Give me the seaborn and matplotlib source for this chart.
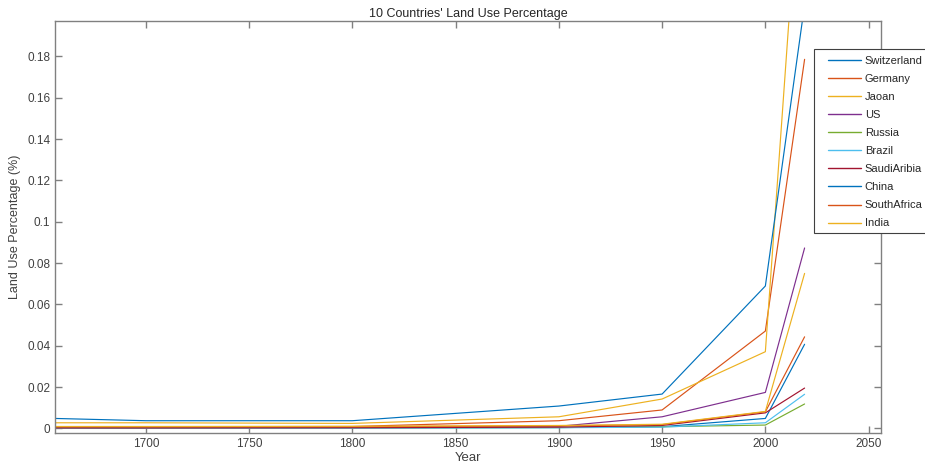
import pandas as pd
import matplotlib
matplotlib.use("Agg")
import matplotlib.pyplot as plt
import seaborn as sns
from matplotlib.patches import Rectangle
from matplotlib.ticker import FormatStrFormatter, MultipleLocator

# data
years = [1656, 1700, 1800, 1900, 1950, 2000, 2019]
countries = ['Switzerland', 'Germany', 'Jaoan', 'US', 'Russia', 'Brazil',
             'SaudiAribia', 'China', 'SouthAfrica', 'India']
switzerland = [0.0003, 0.0003, 0.0003, 0.0004, 0.0008, 0.0048, 0.0407]
germany = [0.0008, 0.0008, 0.0009, 0.0037, 0.0089, 0.0471, 0.1786]
japan = [0.0027, 0.0027, 0.0024, 0.0056, 0.0142, 0.0371, 0.3040]
us = [0.0004, 0.0004, 0.0005, 0.0010, 0.0056, 0.0174, 0.0873]
russia = [0.0001, 0.0001, 0.0002, 0.0004, 0.0008, 0.0016, 0.0118]
brazil = [0.0001, 0.0001, 0.0001, 0.0003, 0.0006, 0.0027, 0.0165]
saudi = [0.0002, 0.0002, 0.0003, 0.0006, 0.0014, 0.0075, 0.0195]
china = [0.0048, 0.0037, 0.0037, 0.0108, 0.0166, 0.0689, 0.2050]
south_africa = [0.0007, 0.0007, 0.0008, 0.0012, 0.0018, 0.0080, 0.0443]
india = [0.0009, 0.0009, 0.0010, 0.0014, 0.0020, 0.0082, 0.0750]

series = [switzerland, germany, japan, us, russia, brazil, saudi, china, south_africa, india]
colors = ['#0072BD', '#D95319', '#EDB120', '#7E2F8E', '#77AC30', '#4DBEEE',
          '#A2142F', '#0072BD', '#D95319', '#EDB120']

rows = []
for name, vals in zip(countries, series):
    for y, v in zip(years, vals):
        rows.append({'Year': y, 'Value': v, 'Country': name})
df = pd.DataFrame(rows)

sns.set_style("ticks")
plt.rcParams['font.family'] = ['Liberation Sans', 'DejaVu Sans']
plt.rcParams.update({
    "axes.edgecolor": "#808080",
    "axes.linewidth": 1.0,
    "xtick.color": "#808080",
    "ytick.color": "#808080",
    "xtick.labelcolor": "#404040",
    "ytick.labelcolor": "#404040",
    "xtick.direction": "in",
    "ytick.direction": "in",
})

fig = plt.figure(figsize=(9.25, 4.68), dpi=100)
ax = fig.add_axes([55 / 925, 1 - 432.7 / 468, 826 / 925, 412 / 468])

sns.lineplot(data=df, x='Year', y='Value', hue='Country', hue_order=countries,
             palette=colors, linewidth=0.85, ax=ax, legend=True)

ax.set_xlim(1656, 2056)
ax.set_ylim(-0.0021, 0.1973)
ax.xaxis.set_major_locator(MultipleLocator(50))
ax.yaxis.set_major_locator(MultipleLocator(0.02))
ax.yaxis.set_major_formatter(FormatStrFormatter('%g'))
ax.tick_params(axis='both', which='both', top=True, right=True, length=5,
               width=1.0, labelsize=8.5)
for s in ax.spines.values():
    s.set_visible(True)

ax.set_title("10 Countries' Land Use Percentage", fontsize=9, color='#262626', pad=3)
ax.set_xlabel("Year", fontsize=9.5, color='#404040', labelpad=2)
ax.set_ylabel("Land Use Percentage (%)", fontsize=9, color='#404040', labelpad=4)

# legend box like MATLAB's, partly outside the figure on the right
frame = Rectangle((814 / 925, 1 - 233 / 468), 0.2, 184 / 468,
                  transform=fig.transFigure, facecolor='white',
                  edgecolor='#404040', linewidth=0.8, zorder=5, clip_on=False)
ax.add_patch(frame)

handles, labels = ax.get_legend_handles_labels()
leg = ax.legend(handles, labels, loc='upper left',
                bbox_to_anchor=(828 / 925, 1 - 55.5 / 468),
                bbox_transform=fig.transFigure,
                fontsize=8, frameon=False, handlelength=3.0, handletextpad=0.3,
                labelspacing=0.73, borderpad=0, borderaxespad=0)
leg.set_zorder(6)
for line in leg.get_lines():
    line.set_linewidth(1.0)
for t in leg.get_texts():
    t.set_color('#262626')

fig.savefig("out.png", dpi=100)
